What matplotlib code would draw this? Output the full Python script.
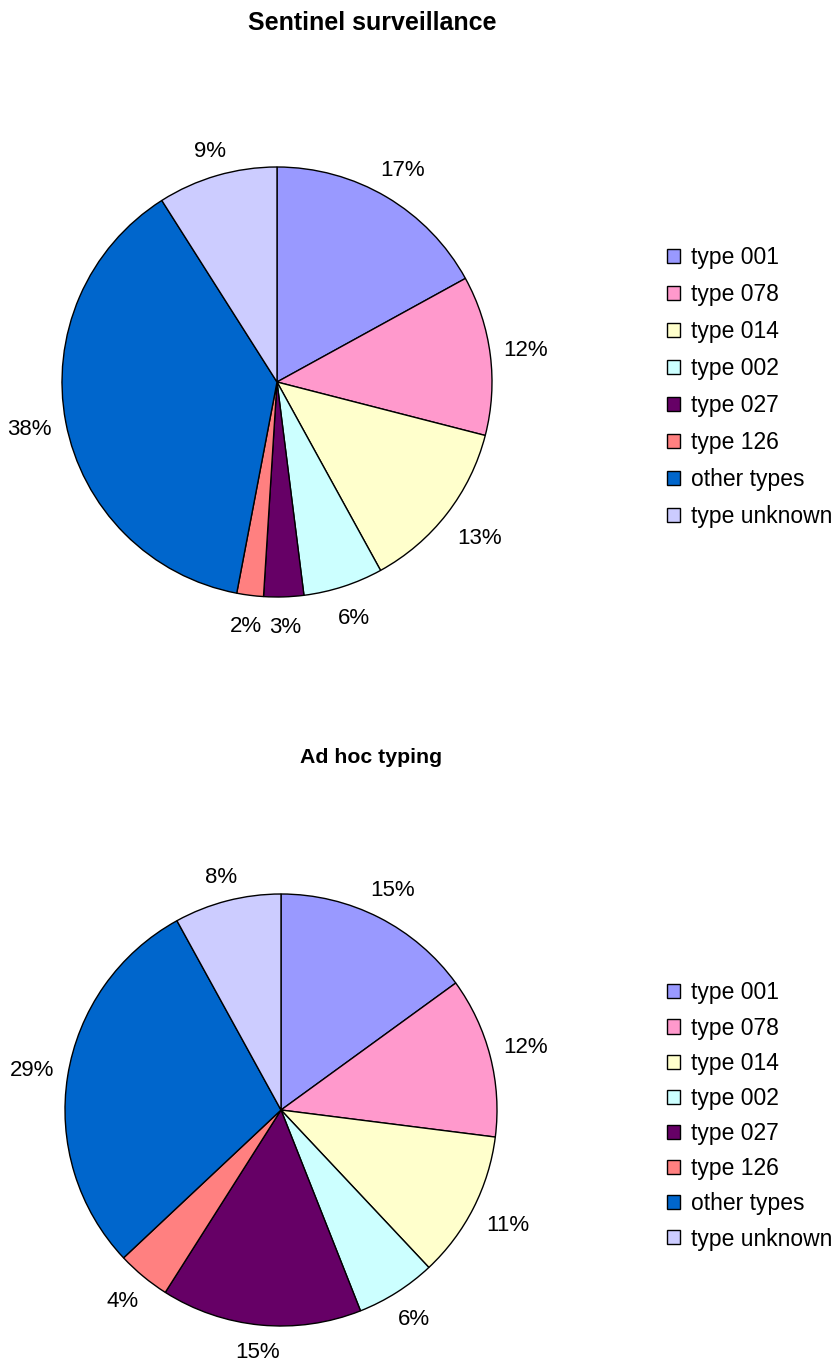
import matplotlib
matplotlib.use('Agg')
import matplotlib.pyplot as plt
import numpy as np

plt.rcParams['font.family'] = ['Liberation Sans', 'DejaVu Sans']

names = ['type 001', 'type 078', 'type 014', 'type 002', 'type 027',
         'type 126', 'other types', 'type unknown']
colors = ['#9999FF', '#FF99CC', '#FFFFCC', '#CCFFFF', '#660066',
          '#FF8080', '#0066CC', '#CCCCFF']

sentinel = [17, 12, 13, 6, 3, 2, 38, 9]
adhoc = [15, 12, 11, 6, 15, 4, 29, 8]

W, H = 838, 1364
fig = plt.figure(figsize=(W / 100, H / 100), dpi=100)


def pie_axes(cx, cy, r):
    # pixel center / radius -> figure axes
    return fig.add_axes([(cx - r) / W, (H - cy - r) / H, 2 * r / W, 2 * r / H])


def draw(ax, vals, r_px, legend_y, spacing, drop):
    wedges, _ = ax.pie(vals, colors=colors, startangle=90, counterclock=False,
                       radius=1, wedgeprops=dict(edgecolor='black', linewidth=1))
    # labels sit a fixed gap outside the rim, like excel does
    total = float(sum(vals))
    cum = np.cumsum([0] + list(vals))
    for i, v in enumerate(vals):
        frac = (cum[i] + v / 2.0) / total
        ang = np.pi / 2 - 2 * np.pi * frac
        ux, uy = np.cos(ang), np.sin(ang)
        lab = '%d%%' % round(100 * v / total)
        hw = 7.5 * len(lab)
        off = (12 + abs(ux) * hw + abs(uy) * 9 + drop * max(0, -uy)) / r_px
        ax.text((1 + off) * ux, (1 + off) * uy, lab, ha='center', va='center',
                fontsize=16)
    ax.set_xlim(-1, 1)
    ax.set_ylim(-1, 1)
    ax.set_aspect('equal')
    ax.axis('off')
    fig.legend(wedges, names, loc='center left', frameon=False,
               bbox_to_anchor=(667 / W, 1 - legend_y / H),
               borderaxespad=0, borderpad=0, fontsize=16.5,
               handlelength=0.57, handleheight=0.57, handletextpad=0.48,
               labelspacing=spacing)


ax1 = pie_axes(277, 382, 215)
draw(ax1, sentinel, 215, 387, 0.61, 9)
fig.text(372 / W, 1 - 23 / H, 'Sentinel surveillance', ha='center', va='center',
         fontsize=18, fontweight='bold')

ax2 = pie_axes(281, 1110, 216)
draw(ax2, adhoc, 216, 1116, 0.53, 5)
fig.text(371 / W, 1 - 758 / H, 'Ad hoc typing', ha='center', va='center',
         fontsize=15.3, fontweight='bold')

fig.savefig('out.png', dpi=100)
